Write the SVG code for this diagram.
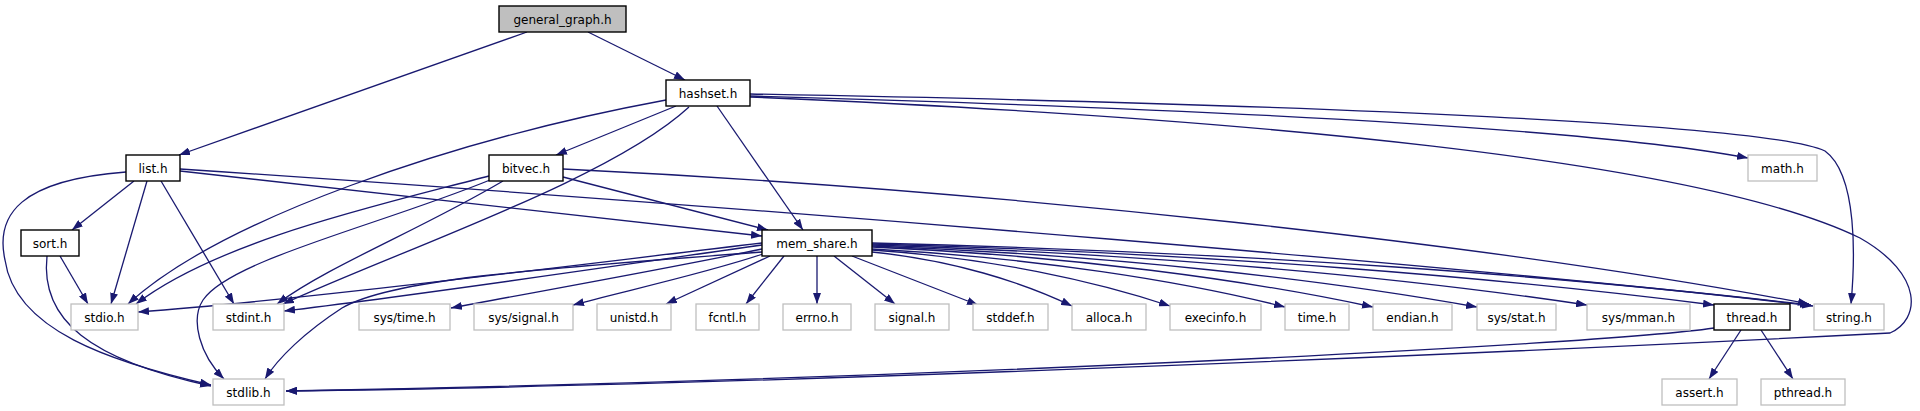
<svg xmlns="http://www.w3.org/2000/svg" width="1920" height="411" viewBox="0 0 1920 411">
<style>
.n rect{fill:#fff;stroke:#000;stroke-width:1.4}
.n.focus rect{fill:#bfbfbf}
.n.ext rect{stroke:#bfbfbf;stroke-width:1.3}
.n text{font-family:"DejaVu Sans",sans-serif;font-size:12px;text-anchor:middle;fill:#000}
.e path{fill:none;stroke:#191970;stroke-width:1.3;marker-end:url(#ah)}
</style>
<defs>
<marker id="ah" viewBox="0 0 11 8" refX="11" refY="4" markerWidth="11" markerHeight="8" markerUnits="userSpaceOnUse" orient="auto">
<polygon points="0,0 11,4 0,8" fill="#191970"/>
</marker>
</defs>
<rect width="1920" height="411" fill="#fff"/>
<g id="edges" class="e">
<path d="M527,32 L179,155"/>
<path d="M588,32 L685,80"/>
<path d="M666,100 C 450,140 220,220 128,304"/>
<path d="M676,106 L556,155"/>
<path d="M689,107 C 610,180 400,250 283,304"/>
<path d="M717,106 L803,230"/>
<path d="M750,96 C 1250,110 1600,130 1748,158"/>
<path d="M750,94 C 1350,105 1770,125 1825,151 C 1858,175 1855,260 1851,304"/>
<path d="M750,97 C 1250,118 1700,160 1860,238 C 1925,275 1920,320 1890,333 C 1600,348 800,385 286,391"/>
<path d="M134,181 L72,230"/>
<path d="M147,181 L111,304"/>
<path d="M161,181 L234,304"/>
<path d="M126,172 C 20,180 -5,215 5,260 C 15,330 110,362 211,385"/>
<path d="M180,171 L762,236"/>
<path d="M180,169 C 800,210 1500,270 1811,305"/>
<path d="M563,177 L768,230"/>
<path d="M489,176 C 380,205 220,240 136,304"/>
<path d="M490,180 C 380,225 230,260 203,300 C 190,320 200,355 224,379"/>
<path d="M503,181 C 420,230 330,265 277,304"/>
<path d="M563,169 C 1000,190 1500,245 1809,304"/>
<path d="M60,256 L88,304"/>
<path d="M47,256 C 40,320 90,360 211,386"/>
<path d="M762,243 C 550,268 300,300 138,312"/>
<path d="M762,245 C 600,268 420,295 284,311"/>
<path d="M762,252 C 520,270 390,280 342,308 C 305,332 278,358 265,379"/>
<path d="M762,249 C 650,272 530,293 451,308"/>
<path d="M763,254 C 700,275 620,292 573,305"/>
<path d="M770,256 L666,304"/>
<path d="M784,256 L746,304"/>
<path d="M817,256 L817,304"/>
<path d="M834,256 L895,304"/>
<path d="M852,256 L978,305"/>
<path d="M872,252 C 952,260 1022,282 1072,306"/>
<path d="M872,250 C 991,258 1095,281 1170,306"/>
<path d="M872,249 C 1037,258 1182,281 1285,307"/>
<path d="M872,247 C 1072,256 1248,280 1373,307"/>
<path d="M872,246 C 1114,255 1326,280 1477,307"/>
<path d="M872,245 C 1158,254 1408,278 1587,305"/>
<path d="M872,244 C 1209,253 1503,278 1714,305"/>
<path d="M872,243 C 1248,252 1578,277 1813,306"/>
<path d="M1741,330 L1709,379"/>
<path d="M1761,330 L1793,379"/>
<path d="M1714,328 C 1600,345 900,380 286,391"/>
</g>
<g id="general_graph_h" class="n focus"><rect x="499" y="6" width="127" height="26"/><text x="562.5" y="23.5">general_graph.h</text></g>
<g id="hashset_h" class="n"><rect x="666" y="80" width="84" height="26"/><text x="708" y="97.5">hashset.h</text></g>
<g id="list_h" class="n"><rect x="126" y="155" width="54" height="26"/><text x="153" y="172.5">list.h</text></g>
<g id="bitvec_h" class="n"><rect x="489" y="155" width="74" height="26"/><text x="526" y="172.5">bitvec.h</text></g>
<g id="math_h" class="n ext"><rect x="1748" y="155" width="69" height="26"/><text x="1782.5" y="172.5">math.h</text></g>
<g id="sort_h" class="n"><rect x="21" y="230" width="58" height="26"/><text x="50" y="247.5">sort.h</text></g>
<g id="mem_share_h" class="n"><rect x="762" y="230" width="110" height="26"/><text x="817" y="247.5">mem_share.h</text></g>
<g id="stdio_h" class="n ext"><rect x="71" y="304" width="67" height="26"/><text x="104.5" y="321.5">stdio.h</text></g>
<g id="stdint_h" class="n ext"><rect x="213" y="304" width="71" height="26"/><text x="248.5" y="321.5">stdint.h</text></g>
<g id="sys_time_h" class="n ext"><rect x="359" y="304" width="91" height="26"/><text x="404.5" y="321.5">sys/time.h</text></g>
<g id="sys_signal_h" class="n ext"><rect x="474" y="304" width="99" height="26"/><text x="523.5" y="321.5">sys/signal.h</text></g>
<g id="unistd_h" class="n ext"><rect x="597" y="304" width="74" height="26"/><text x="634" y="321.5">unistd.h</text></g>
<g id="fcntl_h" class="n ext"><rect x="696" y="304" width="63" height="26"/><text x="727.5" y="321.5">fcntl.h</text></g>
<g id="errno_h" class="n ext"><rect x="783" y="304" width="68" height="26"/><text x="817" y="321.5">errno.h</text></g>
<g id="signal_h" class="n ext"><rect x="875" y="304" width="74" height="26"/><text x="912" y="321.5">signal.h</text></g>
<g id="stddef_h" class="n ext"><rect x="973" y="304" width="75" height="26"/><text x="1010.5" y="321.5">stddef.h</text></g>
<g id="alloca_h" class="n ext"><rect x="1072" y="304" width="74" height="26"/><text x="1109" y="321.5">alloca.h</text></g>
<g id="execinfo_h" class="n ext"><rect x="1170" y="304" width="91" height="26"/><text x="1215.5" y="321.5">execinfo.h</text></g>
<g id="time_h" class="n ext"><rect x="1285" y="304" width="64" height="26"/><text x="1317" y="321.5">time.h</text></g>
<g id="endian_h" class="n ext"><rect x="1373" y="304" width="79" height="26"/><text x="1412.5" y="321.5">endian.h</text></g>
<g id="sys_stat_h" class="n ext"><rect x="1477" y="304" width="79" height="26"/><text x="1516.5" y="321.5">sys/stat.h</text></g>
<g id="sys_mman_h" class="n ext"><rect x="1587" y="304" width="103" height="26"/><text x="1638.5" y="321.5">sys/mman.h</text></g>
<g id="thread_h" class="n"><rect x="1714" y="304" width="76" height="26"/><text x="1752" y="321.5">thread.h</text></g>
<g id="string_h" class="n ext"><rect x="1814" y="304" width="70" height="26"/><text x="1849" y="321.5">string.h</text></g>
<g id="stdlib_h" class="n ext"><rect x="213" y="379" width="71" height="26"/><text x="248.5" y="396.5">stdlib.h</text></g>
<g id="assert_h" class="n ext"><rect x="1662" y="379" width="75" height="26"/><text x="1699.5" y="396.5">assert.h</text></g>
<g id="pthread_h" class="n ext"><rect x="1761" y="379" width="84" height="26"/><text x="1803" y="396.5">pthread.h</text></g>
</svg>
